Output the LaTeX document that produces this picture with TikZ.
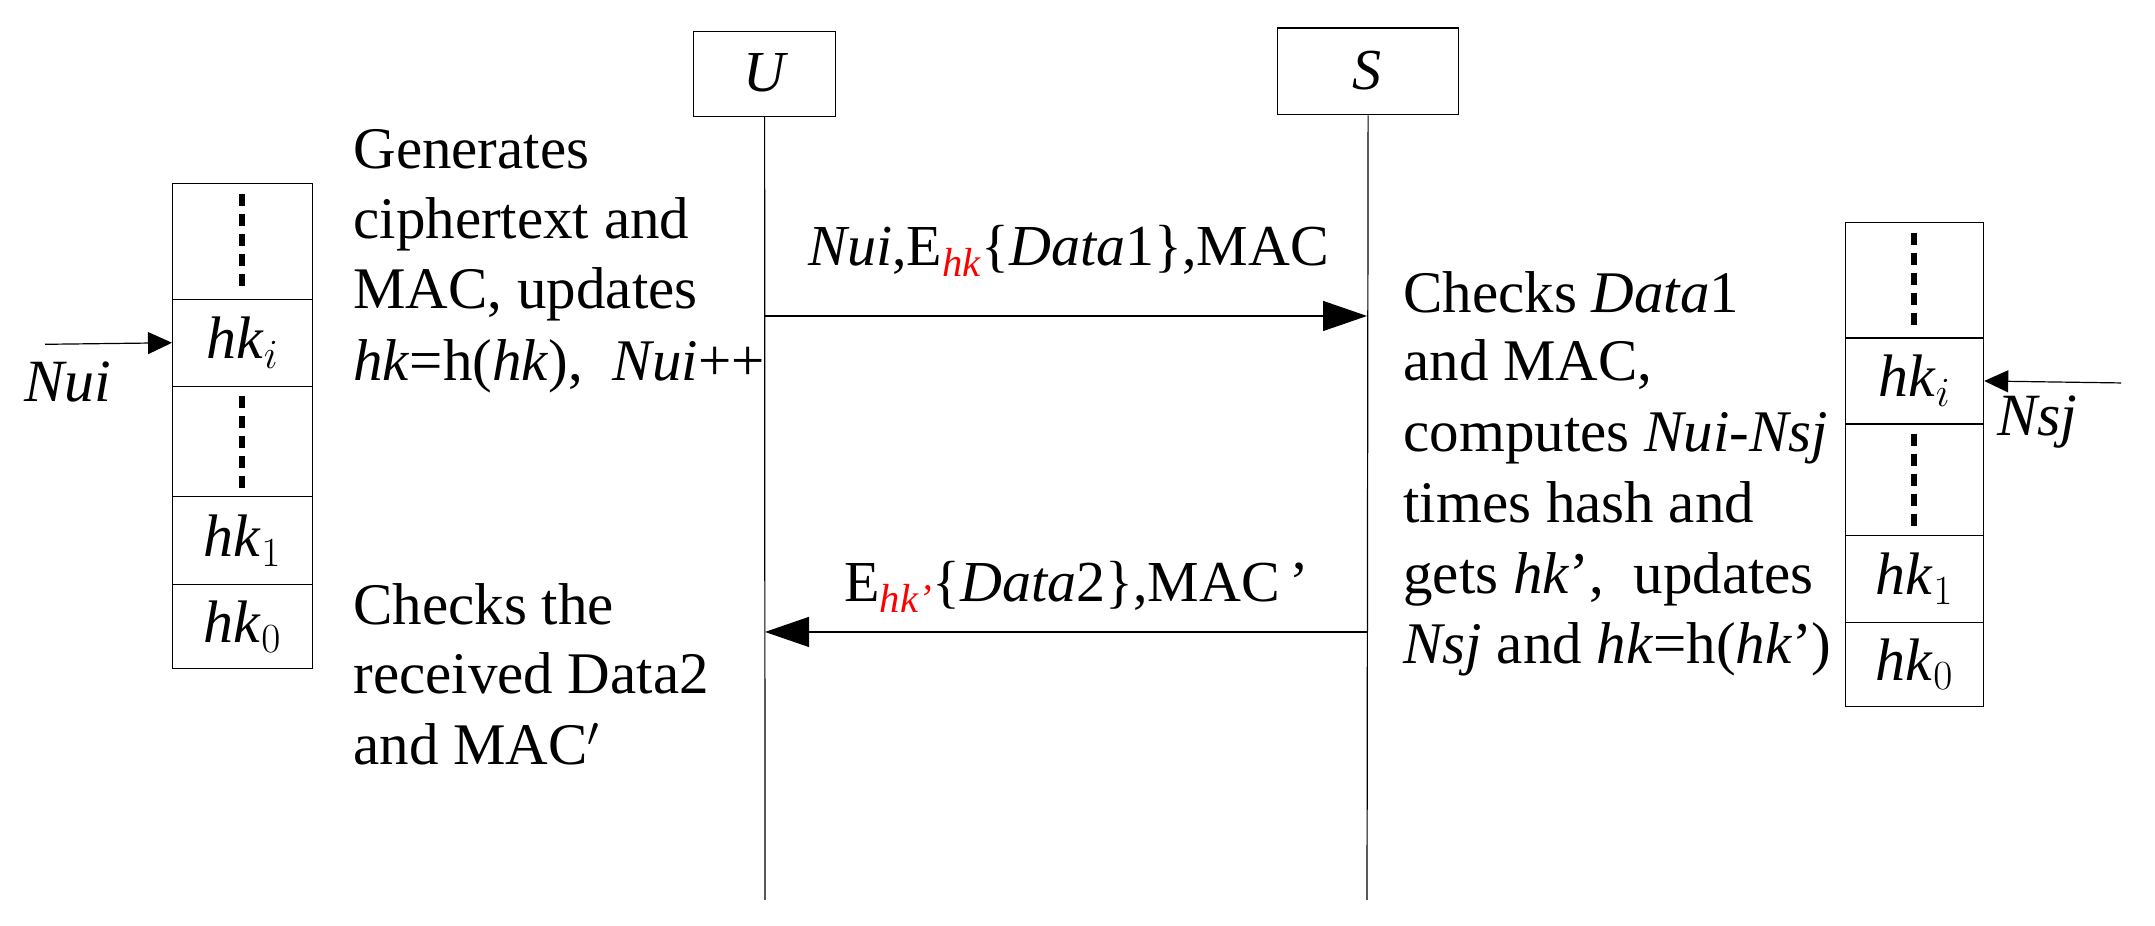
\documentclass[tikz,border=0pt]{standalone}
\usepackage{fontspec}
\setmainfont{Liberation Serif}
\usetikzlibrary{arrows.meta}
\begin{document}
\begin{tikzpicture}[x=0.5pt,y=-0.4293pt,
  box/.style={draw,line width=0.6pt,inner sep=0,anchor=north west},
  txt/.style={anchor=base west,inner sep=0,font=\fontsize{29.5}{36}\selectfont},
  lab/.style={anchor=base west,inner sep=0,font=\fontsize{29}{35}\selectfont},
  hk/.style={font=\fontsize{30}{36}\selectfont},
  dots/.style={line width=2.6pt,dash pattern=on 6pt off 4pt},
  msg/.style={line width=0.6pt,-{Triangle[length=22pt,width=15pt]}}]
\useasboundingbox (0,0) rectangle (2155,1077.5);
% participants
\node[box,minimum width=71pt,minimum height=42.5pt] (U) at (693,36) {};
\node[font=\fontsize{29}{35}\selectfont\itshape] at (764,85) {U};
\node[box,minimum width=90.5pt,minimum height=43.4pt] (S) at (1277,32) {};
\node[font=\fontsize{29}{35}\selectfont\itshape] at (1367,82) {S};
\coordinate (Ue) at (765,1048);
\coordinate (Se) at (1367,1048);
\draw[line width=0.6pt] (U.south) -- (Ue);
\draw[line width=0.6pt] (S.south) -- (Se);
% messages
\coordinate (m1a) at (765,368); \coordinate (m1b) at (1367,368);
\coordinate (m2a) at (1367,736); \coordinate (m2b) at (765,736);
\draw[msg] (m1a) -- (m1b);
\draw[msg] (m2a) -- (m2b);
\node[lab] (l1) at (808,309) {\textit{Nui},E\textsubscript{\color{red}\itshape hk}\{\textit{Data}1\},MAC};
\node[lab] (l2) at (844,701) {E\textsubscript{\color{red}\itshape hk'}\{\textit{Data}2\},MAC\,'};
% left stack
\foreach \n/\a/\b in {la/213/348,lb/348/449,lc/449/578,ld/578/680,le/680/778}{
  \node[box,minimum width=70pt,minimum height={(\b-\a)*0.4293pt}] (\n) at (172,\a) {};}
\draw[dots] (242,226) -- (242,338);
\draw[dots] (242,461) -- (242,573);
\node[hk] at (lb) {\textit{hk}$_i$};
\node[hk] at (ld) {\textit{hk}$_1$};
\node[hk] at (le) {\textit{hk}$_0$};
\coordinate (nuis) at (45,401);
\draw[line width=0.6pt,-{Triangle[length=12pt,width=11pt]}] (nuis) -- (lb.west);
\node[hk,font=\fontsize{30}{36}\selectfont\itshape] at (68,445) {Nui};
% right stack
\foreach \n/\a/\b in {ra/258/393,rb/393/493,rc/493/623,rd/623/724,re/724/822}{
  \node[box,minimum width=69pt,minimum height={(\b-\a)*0.4293pt}] (\n) at (1845,\a) {};}
\draw[dots] (1914,271) -- (1914,383);
\draw[dots] (1914,505) -- (1914,617);
\node[hk] at (rb) {\textit{hk}$_i$};
\node[hk] at (rd) {\textit{hk}$_1$};
\node[hk] at (re) {\textit{hk}$_0$};
\coordinate (nsjs) at (2121,446);
\draw[line width=0.6pt,-{Triangle[length=12pt,width=11pt]}] (nsjs) -- (rb.east);
\node[font=\fontsize{30}{36}\selectfont\itshape] at (2037,492) {Nsj};
% texts
\node[txt] at (353,196) {Generates};
\node[txt] at (353,278) {ciphertext and};
\node[txt] at (353,359) {MAC, updates};
\node[txt] at (353,443) {\textit{hk}=h(\textit{hk}),\ \ \textit{Nui}++};
\node[txt] at (353,727) {Checks the};
\node[txt] at (353,808) {received Data2};
\node[txt] at (353,890) {and MAC$'$};
\node[txt] at (1403,364) {Checks \textit{Data}1};
\node[txt] at (1403,443) {and MAC,};
\node[txt] at (1403,526) {computes \textit{Nui}-\textit{Nsj}};
\node[txt] at (1403,608) {times hash and};
\node[txt] at (1403,691) {gets \textit{hk}',\ \ updates};
\node[txt] at (1403,773) {\textit{Nsj} and \textit{hk}=h(\textit{hk}')};
\end{tikzpicture}
\end{document}
